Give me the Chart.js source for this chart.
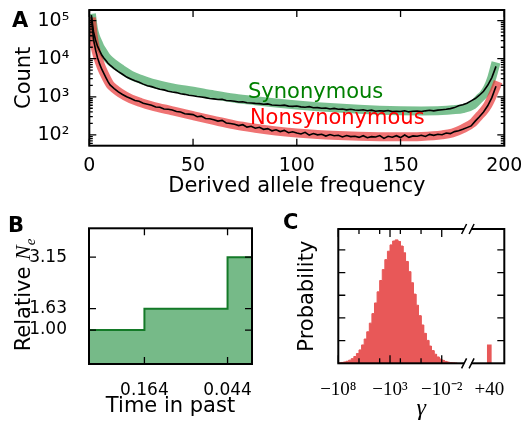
<!DOCTYPE html>
<html>
<head>
<meta charset="utf-8">
<script src="https://cdn.jsdelivr.net/npm/chart.js@4.4.1/dist/chart.umd.min.js"></script>
<style>
  html, body { margin: 0; padding: 0; background: #fff; }
  #fig { position: relative; width: 521px; height: 423px; overflow: hidden; background: #fff; }
  #fig canvas { position: absolute; }
  .panel { position: absolute; font: bold 21px 'DejaVu Sans'; line-height: 21px; }
  #neTitle {
    position: absolute; left: -52px; top: 282px; width: 150px; height: 26px;
    font: 21px 'DejaVu Sans'; line-height: 26px; text-align: center;
    white-space: nowrap; transform: rotate(-90deg);
  }
  #neTitle .m { font: italic 22px 'Liberation Serif'; }
  #neTitle .sub { font: italic 15px 'Liberation Serif'; position: relative; top: 5px; }
</style>
</head>
<body>
<div id="fig">
  <canvas id="sfs" width="521" height="200" style="left:0;top:0"></canvas>
  <canvas id="ne" width="270" height="223" style="left:0;top:200px"></canvas>
  <canvas id="dfe" width="251" height="223" style="left:270px;top:200px"></canvas>
  <div class="panel" style="left:12px;top:10px">A</div>
  <div class="panel" style="left:8px;top:215px">B</div>
  <div class="panel" style="left:283px;top:212px">C</div>
  <div id="neTitle">Relative <span class="m">N</span><span class="sub">e</span></div>
</div>
<script>
// panel A: site frequency spectrum
const freqs = [1, 2, 3, 4, 5, 6, 7, 8, 9, 10,
  12, 14, 16, 18, 20, 22, 24, 26, 28, 30, 32, 34, 36, 38, 40, 42, 44, 46, 48, 50,
  52, 54, 56, 58, 60, 62, 64, 66, 68, 70, 72, 74, 76, 78, 80, 82, 84, 86, 88, 90,
  92, 94, 96, 98, 100, 102, 104, 106, 108, 110, 112, 114, 116, 118, 120, 122, 124, 126, 128, 130,
  132, 134, 136, 138, 140, 142, 144, 146, 148, 150, 152, 154, 156, 158, 160, 162, 164, 166, 168, 170,
  172, 174, 176, 178, 180, 182, 184, 186, 188, 190, 192, 194, 196];
const synCounts = [140000, 52000, 31000, 21000, 16000, 12500, 10500, 9000, 7600, 6800,
  5500, 4600, 3900, 3300, 2950, 2650, 2400, 2150, 1950, 1850, 1700, 1580, 1520, 1400, 1330, 1290, 1200, 1160, 1100, 1070,
  1020, 990, 950, 900, 880, 850, 860, 800, 790, 760, 730, 740, 700, 690, 670, 660, 640, 650, 610, 600,
  590, 605, 570, 560, 575, 545, 530, 550, 515, 520, 500, 510, 480, 495, 470, 480, 455, 470, 450, 445,
  455, 432, 447, 418, 431, 420, 437, 409, 416, 412, 428, 401, 419, 423, 408, 428, 442, 427, 447, 458,
  470, 490, 520, 580, 620, 680, 780, 900, 1100, 1400, 2000, 3200, 6300];
const nonCounts = [125000, 33000, 17000, 10500, 7200, 5300, 4100, 3200, 2500, 2050,
  1650, 1350, 1150, 1000, 900, 800, 760, 680, 640, 600, 540, 530, 480, 470, 450, 410, 400, 360, 350, 340,
  300, 310, 270, 265, 250, 230, 240, 205, 200, 190, 175, 185, 160, 168, 150, 158, 140, 146, 128, 136,
  122, 131, 114, 121, 112, 106, 117, 99, 108, 100, 104, 93, 102, 95, 98, 88, 96, 90, 92, 86,
  95, 84, 90, 88, 96, 81, 92, 87, 95, 85, 99, 86, 94, 92, 98, 91, 103, 97, 104, 101,
  112, 108, 122, 128, 140, 155, 172, 230, 300, 400, 580, 950, 1900];

// model fits (thick bands)
const synBandFreqs = [1, 2, 3, 4, 5, 6, 8, 10, 12, 15, 20, 25, 30, 40, 50, 60, 70, 80, 90, 100,
  110, 120, 130, 140, 150, 160, 170, 175, 180, 185, 188, 190, 192, 194, 195, 196];
const synBand = [150000, 60000, 38000, 28000, 21000, 17000, 11500, 8800, 7200, 5500, 3700, 2850, 2300, 1720, 1400, 1120, 920, 790, 690, 610,
  550, 505, 470, 445, 430, 425, 435, 455, 490, 620, 900, 1150, 1700, 3200, 5000, 8000];
const nonBandFreqs = [1, 2, 3, 4, 5, 6, 8, 10, 12, 15, 20, 25, 30, 40, 50, 60, 70, 80, 90, 100,
  110, 120, 130, 140, 150, 160, 170, 175, 180, 185, 188, 190, 192, 194, 196, 197];
const nonBand = [120000, 36000, 18500, 11500, 7800, 5600, 3300, 2100, 1650, 1250, 880, 700, 580, 430, 320, 240, 183, 150, 127, 112,
  102, 96, 92, 90, 89, 91, 100, 112, 145, 210, 320, 420, 600, 1000, 1800, 2500];

const freqTicks = [0, 50, 100, 150, 200];
const countTicks = [1e2, 1e3, 1e4, 1e5];
const countTickLabels = ['10²', '10³', '10⁴', '10⁵'];
const seriesNames = ['Synonymous', 'Nonsynonymous'];

// panel B: demographic model
const epochEdges = [0, 0.34, 0.85, 1];
const relNe = [1.00, 1.63, 3.15, 3.15];
const neTicks = [1.00, 1.63, 3.15];
const timeTickPos = [0.34, 0.85];
const timeTickLabels = ['0.164', '0.044'];

// panel C: distribution of fitness effects (x = -log10|gamma|)
const gammaBins = [-7.875, -7.625, -7.375, -7.125, -6.875, -6.625, -6.375, -6.125, -5.875, -5.625, -5.375, -5.125,
  -4.875, -4.625, -4.375, -4.125, -3.875, -3.625, -3.375, -3.125, -2.875, -2.625, -2.375, -2.125,
  -1.875, -1.625, -1.375, -1.125, -0.875, -0.625, -0.375, -0.125, 0.125, 0.375, 0.625, 0.875,
  1.125, 1.375, 1.625, 1.875, 2.125, 2.375, 2.625, 2.875, 3.125, 3.375];
const gammaBinWidth = 0.25;
const gammaProb = [0.022, 0.036, 0.058, 0.090, 0.138, 0.206, 0.30, 0.43, 0.59, 0.81, 1.07, 1.39,
  1.77, 2.19, 2.66, 3.15, 3.65, 4.13, 4.57, 4.94, 5.22, 5.39, 5.44, 5.37,
  5.17, 4.87, 4.49, 4.04, 3.55, 3.05, 2.56, 2.10, 1.69, 1.32, 1.01, 0.76,
  0.56, 0.40, 0.28, 0.19, 0.13, 0.083, 0.053, 0.033, 0.020, 0.012];
const positiveGamma = [6.6];
const positiveProb = [0.81];
const gammaTickPos = [-8, -3, 2, 6.6];
const gammaTickLabels = ['−10⁸', '−10³', '−10⁻²', '+40'];
const gammaMinorTicks = [-6, -4, -2, 0];
const gammaBreak = 4.5;

Chart.defaults.font.family = "'DejaVu Sans', sans-serif";
Chart.defaults.color = '#000';

const pts = (xs, ys) => xs.map((x, i) => ({ x, y: ys[i] }));
const noPad = s => { s.paddingLeft = 0; s.paddingRight = 0; s.paddingTop = 0; s.paddingBottom = 0; };

// histogram outline: each bin becomes a flat top between its two edges
const histOutline = [];
gammaBins.forEach((c, i) => {
  histOutline.push({ x: c - gammaBinWidth / 2, y: gammaProb[i] });
  histOutline.push({ x: c + gammaBinWidth / 2, y: gammaProb[i] });
});

// box around the plot with matplotlib style inward ticks
const frame = {
  id: 'frame',
  afterDatasetsDraw(chart, args, o) {
    const { ctx, chartArea: a } = chart;
    const sx = chart.scales.x, sy = chart.scales.y;
    ctx.save();
    ctx.strokeStyle = '#000';
    ctx.lineWidth = 1.3;
    ctx.beginPath();
    (o.xTicks || []).forEach(([v, len]) => {
      const p = sx.getPixelForValue(v);
      ctx.moveTo(p, a.top); ctx.lineTo(p, a.top + len);
      ctx.moveTo(p, a.bottom); ctx.lineTo(p, a.bottom - len);
    });
    (o.yTicks || []).forEach(([v, len]) => {
      const p = sy.getPixelForValue(v);
      ctx.moveTo(a.left, p); ctx.lineTo(a.left + len, p);
      ctx.moveTo(a.right, p); ctx.lineTo(a.right - len, p);
    });
    ctx.stroke();
    ctx.lineWidth = 2;
    ctx.strokeRect(a.left, a.top, a.width, a.height);
    if (o.breakAt !== undefined) {
      const p = sx.getPixelForValue(o.breakAt);
      ctx.fillStyle = '#fff';
      [a.top, a.bottom].forEach(y => ctx.fillRect(p - 3.5, y - 2, 7, 4));
      ctx.lineWidth = 1.5;
      ctx.beginPath();
      [a.top, a.bottom].forEach(y => {
        [p - 3.5, p + 4].forEach(c => { ctx.moveTo(c - 2.5, y + 5); ctx.lineTo(c + 2.5, y - 5); });
      });
      ctx.stroke();
    }
    ctx.restore();
  }
};

const seriesLabels = {
  id: 'seriesLabels',
  afterDatasetsDraw(chart, args, o) {
    const { ctx } = chart;
    ctx.save();
    ctx.font = "21px 'DejaVu Sans'";
    ctx.textAlign = 'left';
    ctx.textBaseline = 'alphabetic';
    (o.items || []).forEach(it => {
      ctx.fillStyle = it.color;
      ctx.fillText(it.text, chart.scales.x.getPixelForValue(it.x), chart.scales.y.getPixelForValue(it.y));
    });
    ctx.restore();
  }
};

const base = {
  responsive: false,
  animation: false,
  devicePixelRatio: 1,
  events: []
};

// minor ticks on the log axis
const countMinor = [];
[10, 100, 1000, 10000, 100000].forEach(d => {
  for (let k = 2; k <= 9; k++) if (k * d > 52 && k * d < 190000) countMinor.push([k * d, 3.5]);
});

new Chart(document.getElementById('sfs'), {
  type: 'line',
  data: {
    datasets: [
      { data: pts(freqs, synCounts), borderColor: '#000', borderWidth: 1.6, pointRadius: 0, order: 0 },
      { data: pts(freqs, nonCounts), borderColor: '#000', borderWidth: 1.6, pointRadius: 0, order: 0 },
      { data: pts(nonBandFreqs, nonBand), borderColor: 'rgba(230,40,40,0.65)', borderWidth: 9,
        pointRadius: 0, cubicInterpolationMode: 'monotone', order: 1 },
      { data: pts(synBandFreqs, synBand), borderColor: 'rgba(34,150,70,0.6)', borderWidth: 9,
        pointRadius: 0, cubicInterpolationMode: 'monotone', order: 2 }
    ]
  },
  options: {
    ...base,
    layout: { padding: { top: 10, right: 16.7, left: 0, bottom: 0 } },
    plugins: {
      legend: { display: false },
      tooltip: { enabled: false },
      frame: {
        xTicks: freqTicks.map(v => [v, 7]),
        yTicks: countTicks.map(v => [v, 7]).concat(countMinor)
      },
      seriesLabels: {
        items: [
          { text: seriesNames[0], x: 76.5, y: 940, color: '#008000' },
          { text: seriesNames[1], x: 77.4, y: 188, color: '#ff0000' }
        ]
      }
    },
    scales: {
      x: {
        type: 'linear', min: 0, max: 200,
        grid: { display: false }, border: { display: false },
        afterBuildTicks: s => { s.ticks = freqTicks.map(v => ({ value: v })); },
        afterFit: s => { s.height = 54.3; noPad(s); },
        ticks: { font: { size: 19 }, padding: 1, maxRotation: 0, autoSkip: false },
        title: { display: true, text: 'Derived allele frequency', font: { size: 21 }, padding: { top: 0, bottom: 1 } }
      },
      y: {
        type: 'logarithmic', min: 52, max: 190000,
        grid: { display: false }, border: { display: false },
        afterBuildTicks: s => { s.ticks = countTicks.map(v => ({ value: v })); },
        afterFit: s => { s.width = 89.3; noPad(s); },
        ticks: { font: { size: 19 }, padding: 12, autoSkip: false,
          callback: v => countTickLabels[countTicks.indexOf(v)] },
        title: { display: true, text: 'Count', font: { size: 21 }, padding: { top: 12, bottom: 0 } }
      }
    }
  },
  plugins: [frame, seriesLabels]
});

new Chart(document.getElementById('ne'), {
  type: 'line',
  data: {
    datasets: [
      { data: pts(epochEdges, relNe), stepped: 'before', fill: 'origin',
        backgroundColor: 'rgb(118,186,136)', borderColor: '#147a28', borderWidth: 2, pointRadius: 0 }
    ]
  },
  options: {
    ...base,
    layout: { padding: { top: 28.3, right: 18, left: 0, bottom: 0 } },
    plugins: {
      legend: { display: false },
      tooltip: { enabled: false },
      frame: {
        xTicks: timeTickPos.map(v => [v, 7]),
        yTicks: neTicks.map(v => [v, 7])
      }
    },
    scales: {
      x: {
        type: 'linear', min: 0, max: 1,
        grid: { display: false }, border: { display: false },
        afterBuildTicks: s => { s.ticks = timeTickPos.map(v => ({ value: v })); },
        afterFit: s => { s.height = 59; noPad(s); },
        ticks: { font: { size: 17 }, padding: 8, maxRotation: 0, autoSkip: false,
          callback: v => timeTickLabels[timeTickPos.indexOf(v)] },
        title: { display: true, text: 'Time in past', font: { size: 21 }, padding: { top: 0, bottom: 3.7 } }
      },
      y: {
        type: 'linear', min: 0, max: 4.0,
        grid: { display: false }, border: { display: false },
        afterBuildTicks: s => { s.ticks = neTicks.map(v => ({ value: v })); },
        afterFit: s => { s.width = 89; noPad(s); },
        ticks: { font: { size: 17 }, padding: 14, autoSkip: false, callback: v => v.toFixed(2) }
      }
    }
  },
  plugins: [frame]
});

new Chart(document.getElementById('dfe'), {
  type: 'line',
  data: {
    datasets: [
      { data: histOutline, fill: 'origin', backgroundColor: '#e85858', borderColor: '#e85858',
        borderWidth: 1, pointRadius: 0, tension: 0 },
      { type: 'bar', data: pts(positiveGamma, positiveProb), backgroundColor: '#e85858', borderWidth: 0,
        barThickness: 4 }
    ]
  },
  options: {
    ...base,
    layout: { padding: { top: 29, right: 16.7, left: 0, bottom: 0 } },
    plugins: {
      legend: { display: false },
      tooltip: { enabled: false },
      frame: {
        xTicks: gammaTickPos.slice(0, 3).map(v => [v, 8]).concat(gammaMinorTicks.map(v => [v, 5])),
        yTicks: [1, 2, 3, 4, 5].map(v => [v, 7]),
        breakAt: gammaBreak
      }
    },
    scales: {
      x: {
        type: 'linear', min: -8, max: 8.05, offset: false,
        grid: { display: false }, border: { display: false },
        afterBuildTicks: s => { s.ticks = gammaTickPos.map(v => ({ value: v })); },
        afterFit: s => { s.height = 59.7; noPad(s); },
        ticks: { font: { family: "'Liberation Serif', serif", size: 19 }, padding: 7, maxRotation: 0, autoSkip: false,
          callback: v => gammaTickLabels[gammaTickPos.indexOf(v)] },
        title: { display: true, text: 'γ', font: { family: "'Liberation Serif', serif", style: 'italic', size: 24 },
          padding: { top: 0, bottom: 0 } }
      },
      y: {
        type: 'linear', min: 0, max: 5.92,
        grid: { display: false }, border: { display: false },
        afterFit: s => { s.width = 68.3; noPad(s); },
        ticks: { display: false },
        title: { display: true, text: 'Probability', font: { size: 21 }, padding: { top: 25.4, bottom: 0 } }
      }
    }
  },
  plugins: [frame]
});
</script>
</body>
</html>
